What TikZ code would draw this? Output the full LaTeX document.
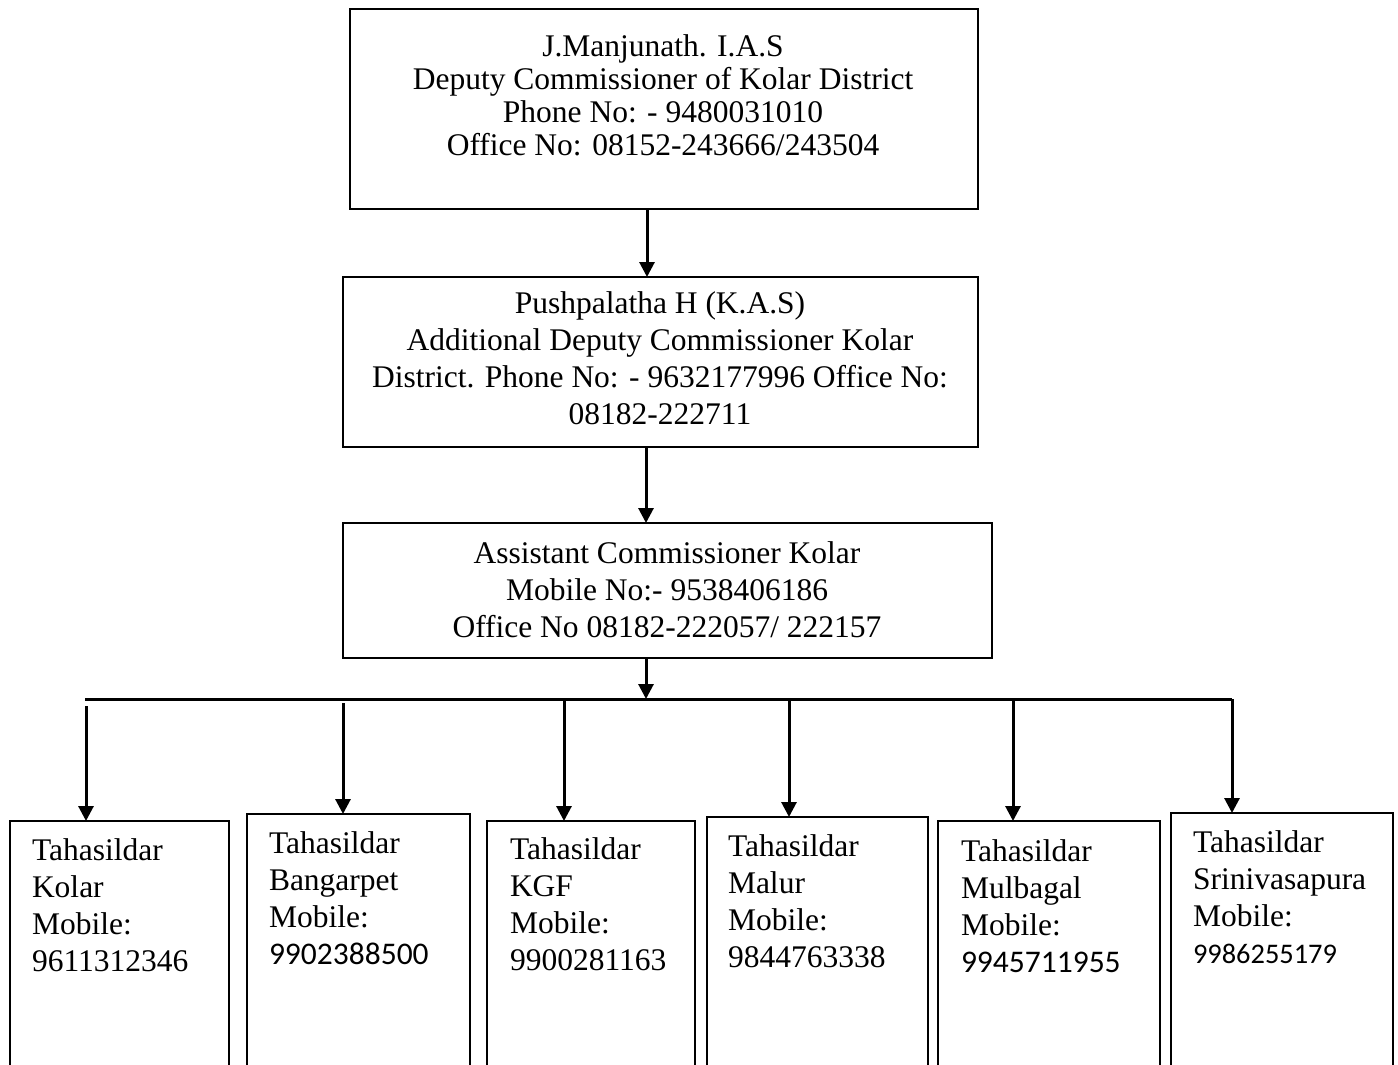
\documentclass[tikz,border=0pt]{standalone}
\usepackage{fontspec}
\setmainfont{Liberation Serif}
\newfontfamily\calibri{Carlito}
\usetikzlibrary{arrows.meta}

\tikzset{
  box/.style={draw=black, line width=2.8pt, rectangle, outer sep=0pt, inner sep=0pt, anchor=north west},
  txt/.style={inner sep=0pt, outer sep=0pt, font=\fontsize{31.5}{36.7}\selectfont},
  toptxt/.style={txt, align=center, anchor=base, font=\fontsize{31.5}{33}\selectfont},
  midtxt/.style={txt, align=center, anchor=base},
  leaftxt/.style={txt, align=left, anchor=base west},
  link/.style={line width=3pt, -{Triangle[width=15pt,length=15pt]}},
  bus/.style={line width=3pt}
}

\begin{document}
\begin{tikzpicture}[x=1pt, y=-1pt]
\clip (0,0) rectangle (1398,1065);
\fill[white] (0,0) rectangle (1398,1065);

% upper chain of offices (text nodes sit on the baseline of their last line)
\node[box, minimum width=628pt, minimum height=200pt] (dc) at (350,9) {};
\node[toptxt] (dct) at (663,155) {J.Manjunath. I.A.S\\Deputy Commissioner of Kolar District\\Phone No: - 9480031010\\Office No: 08152-243666/243504};

\node[box, minimum width=635pt, minimum height=170pt] (adc) at (343,277) {};
\node[midtxt] (adct) at (660,424) {Pushpalatha H (K.A.S)\\Additional Deputy Commissioner Kolar\\District. Phone No: - 9632177996 Office No:\\08182-222711};

\node[box, minimum width=649pt, minimum height=135pt] (ac) at (343,523) {};
\node[midtxt] (act) at (667,637) {Assistant Commissioner Kolar\\Mobile No:- 9538406186\\Office No 08182-222057/ 222157};

% taluk offices (run off the lower edge)
\node[box, minimum width=219pt, minimum height=300pt] (t1) at (10,821) {};
\node[box, minimum width=223pt, minimum height=300pt] (t2) at (247,814) {};
\node[box, minimum width=208pt, minimum height=300pt] (t3) at (487,821) {};
\node[box, minimum width=221pt, minimum height=300pt] (t4) at (707,817) {};
\node[box, minimum width=222pt, minimum height=300pt] (t5) at (938,821) {};
\node[box, minimum width=222pt, minimum height=300pt] (t6) at (1171,813) {};

\node[leaftxt] (t1t) at (32,971) {Tahasildar\\Kolar\\Mobile:\\9611312346};
\node[leaftxt] (t2t) at (269,964) {Tahasildar\\Bangarpet\\Mobile:\\{\calibri 9902388500}};
\node[leaftxt] (t3t) at (510,970) {Tahasildar\\KGF\\Mobile:\\9900281163};
\node[leaftxt] (t4t) at (728,967) {Tahasildar\\Malur\\Mobile:\\9844763338};
\node[leaftxt] (t5t) at (961,972) {Tahasildar\\Mulbagal\\Mobile:\\{\calibri 9945711955}};
\node[leaftxt] (t6t) at (1193,963) {Tahasildar\\Srinivasapura\\Mobile:\\{\calibri\fontsize{28.4}{36.7}\selectfont 9986255179}};

% connector columns
\coordinate (c0) at (647,0);
\coordinate (c1) at (646,0);
\coordinate (busL) at (85,699);
\coordinate (busR) at (1232,699);
\coordinate (busM) at (646,699);
\coordinate (d1) at (86,706);
\coordinate (d2) at (343,703);
\coordinate (d3) at (564,699);
\coordinate (d4) at (789,699);
\coordinate (d5) at (1013,699);

\draw[link] (dc.south -| c0) -- (adc.north -| c0);
\draw[link] (adc.south -| c1) -- (ac.north -| c1);
\draw[link] (ac.south -| c1) -- (busM);
\draw[bus] (busL) -- (busR);

\draw[link] (d1) -- (t1.north -| d1);
\draw[link] (d2) -- (t2.north -| d2);
\draw[link] (d3) -- (t3.north -| d3);
\draw[link] (d4) -- (t4.north -| d4);
\draw[link] (d5) -- (t5.north -| d5);
\draw[link] (busR) -- (t6.north -| busR);
\end{tikzpicture}
\end{document}
